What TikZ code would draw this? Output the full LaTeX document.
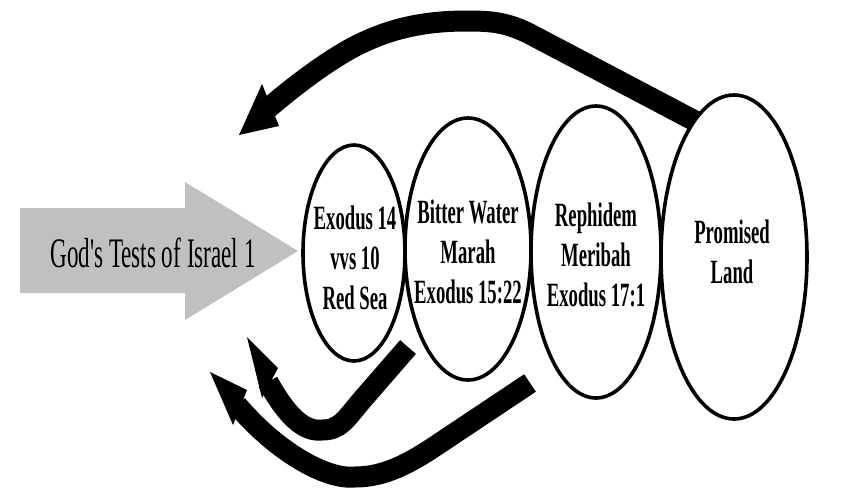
\documentclass[tikz,border=0pt]{standalone}
\usepackage{fontspec}
\newfontfamily\condserif[FakeStretch=0.55]{Liberation Serif}
\usetikzlibrary{shapes.geometric}
\definecolor{arrowgray}{HTML}{C0C0C0}
\begin{document}
\begin{tikzpicture}[x=1pt,y=-1pt,
  stage/.style={draw=black, line width=3.6pt, ellipse, inner sep=0pt},
  stagetext/.style={font=\condserif\bfseries\fontsize{34}{40}\selectfont, inner sep=0pt},
  bigshaft/.style={draw=black, line width=21pt, line cap=butt},
  bighead/.style={fill=black}]
\useasboundingbox (0,0) rectangle (848,490);

% grey arrow with title
\fill[arrowgray] (20,208) -- (185,208) -- (185,182) -- (298,251) -- (185,320) -- (185,293) -- (20,293) -- cycle;
\node[font=\condserif\fontsize{42}{48}\selectfont, inner sep=0pt, anchor=base] (title) at (153,267) {God's Tests of Israel 1};

% ellipses
\node[stage, minimum width=102pt, minimum height=216pt] (e1) at (354,253) {};
\node[stage, minimum width=126pt, minimum height=262pt] (e2) at (468,249) {};
\node[stage, minimum width=130pt, minimum height=292pt] (e3) at (596,252) {};
\node[stage, minimum width=146pt, minimum height=324pt] (e4) at (734,257) {};

\node[stagetext] (t1) at (355,261) {\begin{tabular}{@{}c@{}}Exodus 14\\vvs 10\\Red Sea\end{tabular}};
\node[stagetext] (t2) at (468,255) {\begin{tabular}{@{}c@{}}Bitter Water\\Marah\\Exodus 15:22\end{tabular}};
\node[stagetext] (t3) at (596,258) {\begin{tabular}{@{}c@{}}Rephidem\\Meribah\\Exodus 17:1\end{tabular}};
\node[stagetext] (t4) at (732,255) {\begin{tabular}{@{}c@{}}Promised\\Land\end{tabular}};

% top arrow
\coordinate (atail) at (695,121);
\coordinate (ahead) at (239,135);
\draw[bigshaft] (atail) -- (528,33) .. controls (505,22) and (490,21) .. (467,21)
  .. controls (420,21) and (385,30) .. (350,49) .. controls (320,66) and (292,88) .. (266,110);
\fill[bighead] (ahead) -- (262,84) -- (279,126) -- cycle;

% small lower arrow
\coordinate (btail) at (408,347);
\coordinate (bhead) at (247,337);
\draw[bigshaft] (btail) -- (362,400) .. controls (345,420) and (340,430) .. (322,430)
  .. controls (305,432) and (288,418) .. (268,382);
\fill[bighead] (bhead) -- (278,368) -- (262,398) -- cycle;

% large lower arrow
\coordinate (ctail) at (530,383);
\coordinate (chead) at (210,372);
\draw[bigshaft] (ctail) -- (437,445) .. controls (410,463) and (385,477) .. (355,477)
  .. controls (325,480) and (275,450) .. (237,405);
\fill[bighead] (chead) -- (247,390) -- (233,425) -- cycle;
\end{tikzpicture}
\end{document}
